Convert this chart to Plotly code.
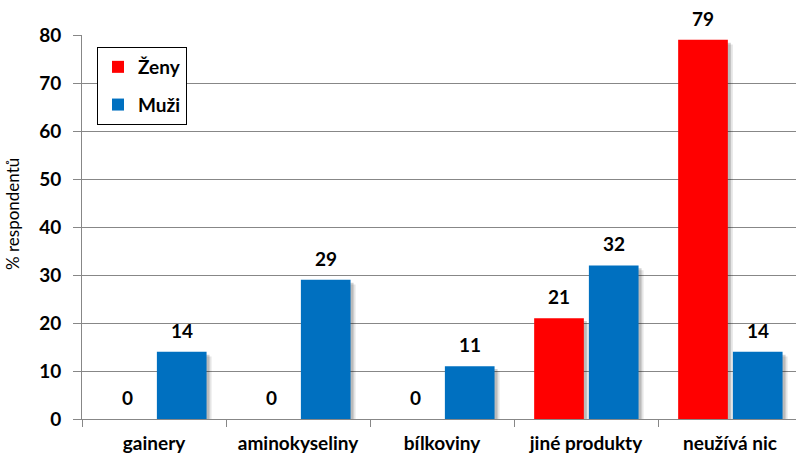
import plotly.graph_objects as go

categories = ["gainery", "aminokyseliny", "bílkoviny", "jiné produkty", "neužívá nic"]
zeny = [0, 0, 0, 21, 79]
muzi = [14, 29, 11, 32, 14]
y_ticks = [0, 10, 20, 30, 40, 50, 60, 70, 80]

RED = "#FF0000"
BLUE = "#0070C0"
FONT = "Lato"

W, H = 796, 456
ML, MR, MT, MB = 82, 0, 35, 37
cat_px = 144.0
plot_w = W - ML - MR
plot_h = H - MT - MB
x_end = -0.5 + plot_w / cat_px

bar_w = 0.345
off_z = -0.36
off_m = 0.02

fig = go.Figure()

series = [("Ženy", zeny, RED, off_z), ("Muži", muzi, BLUE, off_m)]

# shadows
for name, vals, col, off in series:
    for dx, dy, a in [(5, 1.0, 0.10), (3, 0.6, 0.18)]:
        fig.add_trace(go.Bar(
            x=categories, y=[max(v - dy, 0) for v in vals],
            width=bar_w, offset=off + dx / cat_px,
            marker=dict(color=f"rgba(0,0,0,{a})", line=dict(width=0)),
            showlegend=False, hoverinfo="skip",
        ))

for name, vals, col, off in series:
    fig.add_trace(go.Bar(
        x=categories, y=vals, name=name,
        width=bar_w, offset=off,
        marker=dict(color=col, line=dict(width=0)),
        legendgroup=name,
    ))

annotations = []
for name, vals, col, off in series:
    xs = (off + bar_w / 2) * cat_px
    for c, v in zip(categories, vals):
        annotations.append(dict(
            x=c, y=v, xref="x", yref="y", text=str(v), showarrow=False,
            xshift=xs, yshift=8, yanchor="bottom",
            font=dict(family=FONT, size=19, color="black", weight="bold"),
        ))

annotations.append(dict(
    x=-(ML - 12) / plot_w, y=(H - MB - 214) / plot_h, xref="paper", yref="paper",
    text="% respondentů", showarrow=False, textangle=-90,
    xanchor="center", yanchor="middle",
    font=dict(family=FONT, size=17, color="black"),
))

fig.update_layout(
    width=W, height=H,
    margin=dict(l=ML, r=MR, t=MT, b=MB, pad=0),
    paper_bgcolor="white", plot_bgcolor="white",
    barmode="overlay",
    showlegend=True,
    legend=dict(
        x=(97 - ML) / plot_w, y=(H - MB - 47) / plot_h,
        xanchor="left", yanchor="top",
        bordercolor="black", borderwidth=1, bgcolor="white",
        font=dict(family=FONT, size=19, color="black", weight="bold"),
        traceorder="grouped", tracegroupgap=10,
        itemwidth=30,
    ),
    font=dict(family=FONT, color="black"),
    annotations=annotations,
    xaxis=dict(
        range=[-0.5, x_end], type="category",
        showline=True, linecolor="#878787", linewidth=1,
        ticks="outside", ticklen=7, tickcolor="#878787", tickson="boundaries",
        tickfont=dict(family=FONT, size=19, color="black", weight="bold"),
        ticklabelstandoff=7,
        showgrid=False, zeroline=False,
    ),
    yaxis=dict(
        range=[0, 80], tickvals=y_ticks,
        showline=True, linecolor="#878787", linewidth=1,
        ticks="outside", ticklen=8, tickcolor="#878787",
        showgrid=True, gridcolor="#878787", gridwidth=1,
        zeroline=False,
        tickfont=dict(family=FONT, size=19, color="black", weight="bold"),
        ticklabelstandoff=8,
    ),
)

fig.write_html(
    "out.html",
    config={"displayModeBar": False},
    post_script="document.body.style.margin='0';document.body.style.padding='0';",
)
